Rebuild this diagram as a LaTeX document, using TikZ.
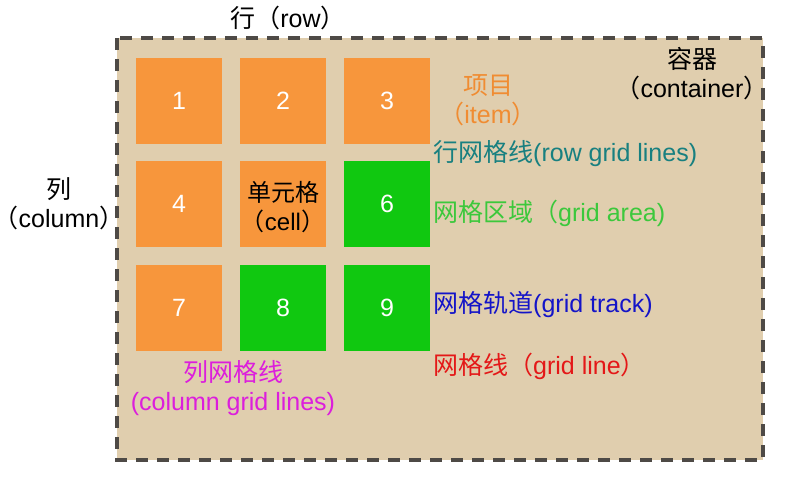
\documentclass[tikz,border=0pt]{standalone}
\usepackage{fontspec}
\setmainfont{Liberation Sans}
\newfontfamily\cjk{Noto Sans CJK SC}
\newcommand\zh[1]{{\cjk #1}}
\newcommand\lpar{\makebox[0.45em][r]{\cjk （}}
\newcommand\rpar{\makebox[0.45em][l]{\cjk ）}}
\definecolor{bgbeige}{RGB}{224,206,174}
\definecolor{borderc}{RGB}{78,74,70}
\definecolor{cellorange}{RGB}{247,150,60}
\definecolor{cellgreen}{RGB}{16,200,16}
\definecolor{tealc}{RGB}{24,128,128}
\definecolor{greenc}{RGB}{60,200,60}
\definecolor{bluec}{RGB}{20,20,200}
\definecolor{redc}{RGB}{228,24,24}
\definecolor{magc}{RGB}{220,30,220}
\definecolor{orangec}{RGB}{240,140,50}
\begin{document}
\begin{tikzpicture}[x=1pt,y=-1pt,
  cellbox/.style={minimum width=86pt,minimum height=86pt,inner sep=0pt,text=white,font=\fontsize{25}{28}\selectfont},
  ocell/.style={cellbox,fill=cellorange},
  gcell/.style={cellbox,fill=cellgreen},
  lbl/.style={inner sep=0pt,font=\fontsize{25}{29}\selectfont,align=center},
  rlbl/.style={lbl,anchor=west}]
\useasboundingbox (0,0) rectangle (786,481);
\fill[white] (0,0) rectangle (786,481);
\draw[fill=bgbeige,draw=borderc,line width=4pt,dash pattern=on 12pt off 9pt] (117,38) rectangle (763,460);
% cells
\node[ocell] (c1) at (179,101) {1};
\node[ocell] (c2) at (283,101) {2};
\node[ocell] (c3) at (387,101) {3};
\node[ocell] (c4) at (179,204) {4};
\node[ocell] (c5) at (283,204) {};
\node[lbl,font=\fontsize{24}{29}\selectfont] (c5t) at (283,207) {\zh{单元格}\\\zh{（}cell\zh{）}};
\node[gcell] (c6) at (387,204) {6};
\node[ocell] (c7) at (179,308) {7};
\node[gcell] (c8) at (283,308) {8};
\node[gcell] (c9) at (387,308) {9};
% labels
\node[lbl] (row) at (288,18) {\zh{行（}row\zh{）}};
\node[lbl] (cont) at (692,74) {\zh{容器}\\\zh{（}container\zh{）}};
\node[lbl,text=orangec] (item) at (488,100) {\zh{项目}\\\zh{（}item\zh{）}};
\node[lbl] (col) at (59,204) {\zh{列}\\\lpar column\rpar};
\node[lbl,text=magc] (colgl) at (233,388) {\zh{列网格线}\\(column grid lines)};
\node[rlbl,text=tealc] (rowgl) at (433,154) {\zh{行网格线}(row grid lines)};
\node[rlbl,text=greenc] (area) at (433,213) {\zh{网格区域（}grid area)};
\node[rlbl,text=bluec] (track) at (433,305) {\zh{网格轨道}(grid track)};
\node[rlbl,text=redc] (gline) at (433,366) {\zh{网格线（}grid line\zh{）}};
\end{tikzpicture}
\end{document}
